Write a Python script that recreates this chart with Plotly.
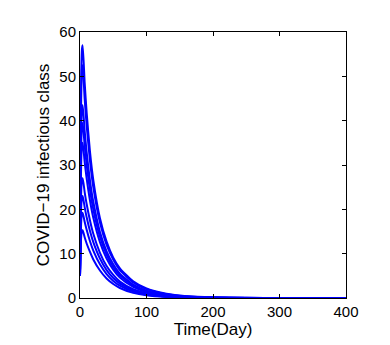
import plotly.graph_objects as go

time_days = [0, 1, 2, 3, 4, 7, 10, 15, 20, 30, 40, 50, 60, 80, 100, 130, 160, 200, 250, 300, 400]

infectious_1 = [5, 36.2, 51.8, 56.2, 57.0, 48.6, 41.8, 33.0, 26.6, 18.0, 12.7, 9.1, 6.7, 3.76, 2.15, 0.95, 0.42, 0.14, 0.04, 0.01, 0.0]
infectious_2 = [5, 33.5, 47.8, 51.8, 52.5, 44.9, 38.9, 30.9, 25.0, 17.0, 12.0, 8.7, 6.3, 3.52, 1.99, 0.86, 0.37, 0.12, 0.03, 0.01, 0.0]
infectious_3 = [5, 28.1, 39.7, 42.9, 43.5, 37.7, 32.9, 26.5, 21.7, 14.9, 10.5, 7.6, 5.5, 3.0, 1.66, 0.69, 0.29, 0.09, 0.02, 0.005, 0.0]
infectious_4 = [5, 25.7, 36.1, 39.0, 39.5, 34.4, 30.1, 24.4, 20.0, 13.8, 9.8, 7.0, 5.1, 2.76, 1.51, 0.62, 0.26, 0.08, 0.02, 0.004, 0.0]
infectious_5 = [5, 23.0, 32.0, 34.6, 35.0, 30.7, 27.0, 22.0, 18.1, 12.6, 8.9, 6.4, 4.6, 2.49, 1.35, 0.54, 0.22, 0.07, 0.01, 0.003, 0.0]
infectious_6 = [5, 18.2, 24.8, 26.7, 27.0, 23.9, 21.2, 17.5, 14.5, 10.2, 7.2, 5.2, 3.7, 1.97, 1.05, 0.41, 0.16, 0.05, 0.01, 0.002, 0.0]
infectious_7 = [5, 15.8, 21.2, 22.7, 23.0, 20.5, 18.2, 15.1, 12.6, 8.9, 6.3, 4.5, 3.25, 1.70, 0.89, 0.34, 0.13, 0.04, 0.007, 0.002, 0.0]
infectious_8 = [5, 13.5, 17.8, 19.0, 19.2, 17.2, 15.4, 12.8, 10.7, 7.6, 5.4, 3.86, 2.77, 1.44, 0.75, 0.28, 0.11, 0.03, 0.006, 0.001, 0.0]
infectious_9 = [5, 11.2, 14.3, 15.1, 15.3, 13.7, 12.3, 10.4, 8.7, 6.2, 4.4, 3.15, 2.26, 1.16, 0.60, 0.22, 0.08, 0.02, 0.004, 0.001, 0.0]

series = [infectious_1, infectious_2, infectious_3, infectious_4, infectious_5,
          infectious_6, infectious_7, infectious_8, infectious_9]

x_ticks = [0, 100, 200, 300, 400]
y_ticks = [0, 10, 20, 30, 40, 50, 60]

fig = go.Figure()
for s in series:
    fig.add_trace(go.Scatter(
        x=time_days, y=s, mode="lines",
        line=dict(color="#0000FF", width=2, shape="spline", smoothing=0.6),
        showlegend=False, hoverinfo="skip",
    ))

axis_font = dict(family="Liberation Sans, Arial, sans-serif", size=15, color="black")
title_font = dict(family="Liberation Sans, Arial, sans-serif", size=17, color="black")

fig.update_layout(
    width=382, height=337,
    margin=dict(l=72, r=44, t=24, b=47),
    paper_bgcolor="white", plot_bgcolor="white",
    font=axis_font,
    xaxis=dict(
        range=[0, 400], tickvals=x_ticks, ticks="inside", ticklen=4,
        tickcolor="black", showline=True, linecolor="black", linewidth=1,
        mirror="ticks", showgrid=False, zeroline=False,
        tickfont=axis_font,
        title=dict(text="Time(Day)", font=title_font, standoff=1),
    ),
    yaxis=dict(
        range=[0, 60], tickvals=y_ticks, ticks="inside", ticklen=4,
        tickcolor="black", showline=True, linecolor="black", linewidth=1,
        mirror="ticks", showgrid=False, zeroline=False,
        tickfont=axis_font,
        title=dict(text="COVID\u221219 infectious class", font=title_font, standoff=5),
    ),
)

fig.write_html("out.html")
